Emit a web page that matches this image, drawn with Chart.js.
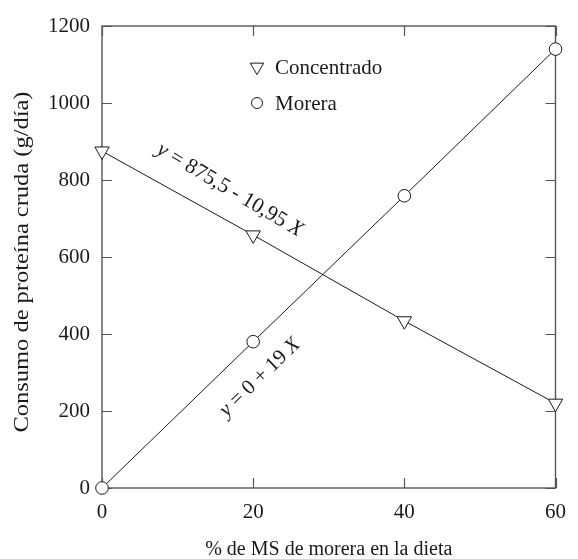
<!DOCTYPE html>
<html>
<head>
<meta charset="utf-8">
<script src="https://cdn.jsdelivr.net/npm/chart.js@4"></script>
<style>
  html, body { margin: 0; padding: 0; background: #fff; }
  #wrap { width: 578px; height: 559px; }
</style>
</head>
<body>
<div id="wrap"><canvas id="c" width="578" height="559"></canvas></div>
<script>
// ---- data ----
const categories = [0, 20, 40, 60];
const concentrado = [875, 657, 434, 220];
const morera = [0, 380, 759, 1140];
const seriesNames = ['Concentrado', 'Morera'];
const xTickValues = [0, 20, 40, 60];
const yTickValues = [0, 200, 400, 600, 800, 1000, 1200];
const xTitle = '% de MS de morera en la dieta';
const yTitle = 'Consumo de proteína cruda (g/día)';
const eqConcentrado = ['y', ' = 875,5 - 10,95 ', 'X'];
const eqMorera = ['y', ' = 0 + 19 ', 'X'];
// label anchors in data units (centre of text)
const eqConcentradoAt = [16.9, 774];
const eqMoreraAt = [20.9, 287];

const FONT = "'Liberation Serif', 'Times New Roman', serif";
const INK = '#1a1a1a';
const FRAME = '#555';

const framePlugin = {
  id: 'frame',
  beforeDatasetsDraw(chart) {
    const {ctx, chartArea: a, scales: {x, y}} = chart;
    ctx.save();
    ctx.strokeStyle = FRAME;
    ctx.lineWidth = 1.4;
    ctx.strokeRect(a.left, a.top, a.right - a.left, a.bottom - a.top);
    ctx.lineWidth = 1.2;
    ctx.beginPath();
    const L = 10;
    xTickValues.forEach(v => {
      const px = Math.round(x.getPixelForValue(v)) + 0.5;
      ctx.moveTo(px, a.bottom); ctx.lineTo(px, a.bottom - L);
      ctx.moveTo(px, a.top); ctx.lineTo(px, a.top + L);
    });
    yTickValues.forEach(v => {
      const py = Math.round(y.getPixelForValue(v)) + 0.5;
      ctx.moveTo(a.left, py); ctx.lineTo(a.left + L, py);
      ctx.moveTo(a.right, py); ctx.lineTo(a.right - L, py);
    });
    ctx.stroke();
    ctx.restore();
  },
  afterDatasetsDraw(chart) {
    const {ctx, chartArea: a, scales: {x, y}} = chart;
    ctx.save();
    // y-axis title (glyphs stretched along the text direction as in the reference)
    ctx.save();
    ctx.font = '20px ' + FONT;
    const tw = ctx.measureText(yTitle).width;
    ctx.translate(23, (a.top + a.bottom) / 2 + 5);
    ctx.rotate(-Math.PI / 2);
    ctx.scale(341 / tw, 1);
    ctx.fillStyle = INK;
    ctx.textAlign = 'center';
    ctx.textBaseline = 'middle';
    ctx.fillText(yTitle, 0, 0);
    ctx.restore();
    // legend
    const items = [
      {style: 'triangle', rotation: 180, radius: 7.7, text: seriesNames[0]},
      {style: 'circle', rotation: 0, radius: 5.5, text: seriesNames[1]}
    ];
    ctx.textBaseline = 'middle';
    items.forEach((it, i) => {
      const mx = a.left + 155, my = a.top + 41 + i * 36;
      ctx.fillStyle = '#fff';
      ctx.strokeStyle = INK;
      ctx.lineWidth = 1;
      Chart.helpers.drawPoint(ctx, {pointStyle: it.style, radius: it.radius, rotation: it.rotation, borderWidth: 1}, mx, my);
      ctx.fillStyle = INK;
      ctx.font = '21px ' + FONT;
      ctx.fillText(it.text, mx + 18, my + 1);
    });
    // equation labels
    const drawEq = (parts, at, angDeg, size) => {
      const cx = x.getPixelForValue(at[0]);
      const cy = y.getPixelForValue(at[1]);
      const fonts = ['italic ' + size + 'px ' + FONT, size + 'px ' + FONT, 'italic ' + size + 'px ' + FONT];
      let total = 0;
      const w = parts.map((p, i) => { ctx.font = fonts[i]; const m = ctx.measureText(p).width; total += m; return m; });
      ctx.save();
      ctx.translate(cx, cy);
      ctx.rotate(angDeg * Math.PI / 180);
      ctx.fillStyle = INK;
      ctx.textBaseline = 'middle';
      ctx.textAlign = 'left';
      let px = -total / 2;
      parts.forEach((p, i) => { ctx.font = fonts[i]; ctx.fillText(p, px, 0); px += w[i]; });
      ctx.restore();
    };
    drawEq(eqConcentrado, eqConcentradoAt, 30.5, 21.5);
    drawEq(eqMorera, eqMoreraAt, -44, 21);
    ctx.restore();
  }
};

const toPts = arr => categories.map((c, i) => ({x: c, y: arr[i]}));

new Chart(document.getElementById('c'), {
  type: 'scatter',
  data: {
    datasets: [
      {
        label: seriesNames[0],
        data: toPts(concentrado),
        showLine: true,
        borderColor: INK,
        borderWidth: 1,
        pointStyle: 'triangle',
        rotation: 180,
        pointRadius: 8.3,
        pointBackgroundColor: '#fff',
        pointBorderColor: INK,
        pointBorderWidth: 1,
        clip: false
      },
      {
        label: seriesNames[1],
        data: toPts(morera),
        showLine: true,
        borderColor: INK,
        borderWidth: 1,
        pointStyle: 'circle',
        pointRadius: 6.3,
        pointBackgroundColor: '#fff',
        pointBorderColor: INK,
        pointBorderWidth: 1,
        clip: false
      }
    ]
  },
  options: {
    responsive: false,
    animation: false,
    devicePixelRatio: 1,
    layout: {padding: {left: 0, top: 26, right: 10, bottom: 0}},
    plugins: {legend: {display: false}, tooltip: {enabled: false}},
    scales: {
      x: {
        type: 'linear', min: 0, max: 60,
        afterBuildTicks: s => { s.ticks = xTickValues.map(v => ({value: v})); },
        afterFit: s => { s.height = 71; },
        grid: {display: false, drawTicks: false},
        border: {display: false},
        ticks: {color: INK, font: {family: FONT, size: 21}, padding: 12, maxRotation: 0, callback: v => String(v)},
        title: {display: true, text: xTitle, color: INK, font: {family: FONT, size: 20}, padding: {top: 0, bottom: -3}}
      },
      y: {
        type: 'linear', min: 0, max: 1200,
        afterBuildTicks: s => { s.ticks = yTickValues.map(v => ({value: v})); },
        afterFit: s => { s.width = 102; },
        grid: {display: false, drawTicks: false},
        border: {display: false},
        ticks: {color: INK, font: {family: FONT, size: 21}, padding: 12, callback: v => String(v)},
        title: {display: false, text: yTitle}
      }
    }
  },
  plugins: [framePlugin]
});
</script>
</body>
</html>
